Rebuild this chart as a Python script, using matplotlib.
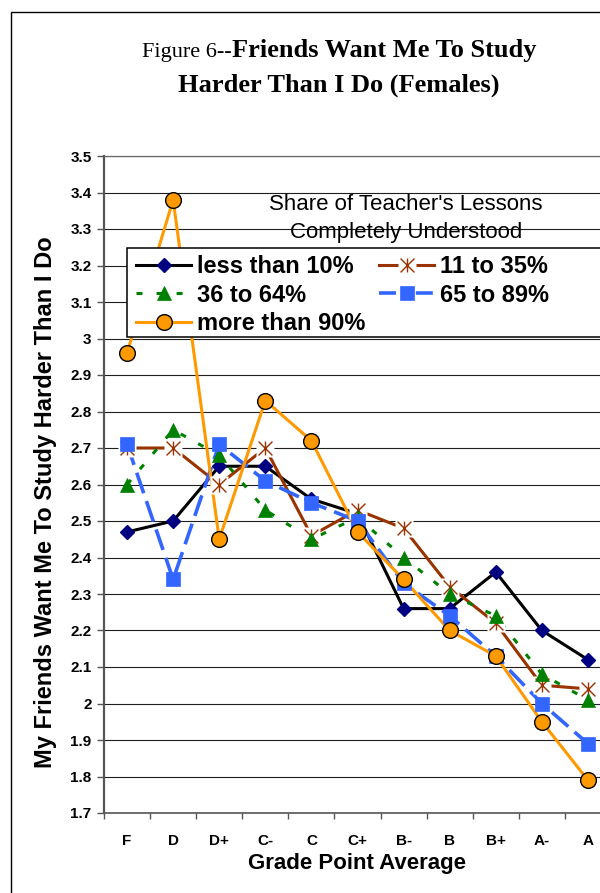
import matplotlib
matplotlib.use('Agg')
import matplotlib.pyplot as plt
from matplotlib.path import Path
from matplotlib.lines import Line2D
from matplotlib.patches import Rectangle
from matplotlib.legend_handler import HandlerTuple
import numpy as np

# ---------------- data ----------------
grades = ['F', 'D', 'D+', 'C-', 'C', 'C+', 'B-', 'B', 'B+', 'A-', 'A']
less_than_10 = [2.47, 2.50, 2.65, 2.65, 2.56, 2.52, 2.26, 2.26, 2.36, 2.20, 2.12]
from_11_to_35 = [2.70, 2.70, 2.60, 2.70, 2.46, 2.53, 2.48, 2.32, 2.22, 2.05, 2.04]
from_36_to_64 = [2.60, 2.75, 2.68, 2.53, 2.45, 2.51, 2.40, 2.30, 2.24, 2.08, 2.01]
from_65_to_89 = [2.71, 2.34, 2.71, 2.61, 2.55, 2.50, 2.33, 2.24, 2.13, 2.00, 1.89]
more_than_90 = [2.96, 3.38, 2.45, 2.83, 2.72, 2.47, 2.34, 2.20, 2.13, 1.95, 1.79]
series_labels = ['less than 10%', '11 to 35%', '36 to 64%', '65 to 89%', 'more than 90%']
yticks = [1.7, 1.8, 1.9, 2.0, 2.1, 2.2, 2.3, 2.4, 2.5, 2.6, 2.7, 2.8, 2.9, 3.0, 3.1, 3.2, 3.3, 3.4, 3.5]
title_prefix = 'Figure 6--'
title_line1 = 'Friends Want Me To Study'
title_line2 = 'Harder Than I Do (Females)'
legend_title = ["Share of Teacher's Lessons", 'Completely Understood']
ylabel = 'My Friends Want Me To Study Harder Than I Do'
xlabel = 'Grade Point Average'

# ---------------- layout helpers ----------------
W, H = 600, 893
fig = plt.figure(figsize=(W / 100, H / 100), dpi=100)
fig.patch.set_facecolor('white')


def fx(px):
    return px / W


def fy(py):
    return 1 - py / H


SANS = 'Liberation Sans'
SERIF = 'Liberation Serif'

ax = fig.add_axes([fx(104), fy(813), (611 - 104) / W, (813 - 156) / H])
x = np.arange(len(grades))
ax.set_xlim(-0.5, len(grades) - 0.5)
ax.set_ylim(yticks[0], yticks[-1])

# grid / spines
ax.set_yticks(yticks)
ax.set_yticklabels([f'{v:g}' for v in yticks])
ax.yaxis.grid(True, color='#1e1e1e', lw=0.8)
ax.set_axisbelow(True)
ax.spines['right'].set_visible(False)
ax.spines['top'].set_color('#666666')
ax.spines['top'].set_linewidth(0.9)
ax.spines['left'].set_color('#555555')
ax.spines['left'].set_linewidth(1.6)
ax.spines['bottom'].set_color('#555555')
ax.spines['bottom'].set_linewidth(1.2)

ax.tick_params(axis='y', direction='out', length=5, width=1, color='#555555', pad=4,
               labelsize=11)
ax.set_xticks(np.arange(-0.5, len(grades), 1.0))
ax.set_xticklabels([])
ax.tick_params(axis='x', which='major', direction='out', length=4.5, width=1, color='#555555')
ax.set_xticks(x, minor=True)
ax.set_xticklabels(grades, minor=True)
ax.tick_params(axis='x', which='minor', length=0, pad=15, labelsize=11)
for lab in ax.get_yticklabels() + ax.get_xticklabels(minor=True):
    lab.set_fontfamily(SANS)
    lab.set_fontweight('bold')

# ---------------- series ----------------
navy = '#000080'
brown = '#993300'
green = '#008000'
blue = '#3366FF'
orange = '#FF9900'

ast_path = Path([(0, -1), (0, 1), (-1, -1), (1, 1), (-1, 1), (1, -1)],
                [Path.MOVETO, Path.LINETO] * 3)

green_dash = (0, (1.96, 4.6))
blue_dash = (0, (6.0, 2.3))

# lines first (all series), then markers
ax.plot(x, less_than_10, color='black', lw=2.2, zorder=2.0)
ax.plot(x, from_11_to_35, color=brown, lw=2.2, zorder=2.1)
ax.plot(x, from_36_to_64, color=green, lw=2.2, ls=green_dash, zorder=2.2)
ax.plot(x, from_65_to_89, color=blue, lw=2.6, ls=blue_dash, zorder=2.3)
ax.plot(x, more_than_90, color=orange, lw=2.2, zorder=2.4)

ax.plot(x, less_than_10, ls='none', marker='D', ms=7.2, mfc=navy, mec=navy, zorder=3.0)
ax.plot(x, from_11_to_35, ls='none', marker='s', ms=13, mfc='white', mec='none', zorder=3.1)
ax.plot(x, from_11_to_35, ls='none', marker=ast_path, ms=10, mfc='none', mec=brown, mew=1.0,
        zorder=3.11)
ax.plot(x, from_36_to_64, ls='none', marker='^', ms=10.5, mfc=green, mec=green, mew=0.5,
        zorder=3.2)
ax.plot(x, from_65_to_89, ls='none', marker='s', ms=10, mfc=blue, mec=blue, mew=0.5, zorder=3.3)
ax.plot(x, more_than_90, ls='none', marker='o', ms=11.3, mfc=orange, mec='black', mew=1.0,
        zorder=3.4)

# ---------------- legend ----------------
h_black = Line2D([], [], color='black', lw=2.2, marker='D', ms=7.2, mfc=navy, mec=navy)
h_brown = (Line2D([], [], color=brown, lw=2.2),
           Line2D([], [], ls='none', marker='s', ms=13, mfc='white', mec='none'),
           Line2D([], [], ls='none', marker=ast_path, ms=10, mfc='none', mec=brown, mew=1.0))
h_green = Line2D([], [], color=green, lw=2.2, ls=green_dash, marker='^', ms=10.5,
                 mfc=green, mec=green, mew=0.5)
h_blue = Line2D([], [], color=blue, lw=2.6, ls=(0, (4.7, 5.5)), marker='s', ms=10,
                mfc=blue, mec=blue, mew=0.5)
h_orange = Line2D([], [], color=orange, lw=2.2, marker='o', ms=11.3, mfc=orange, mec='black',
                  mew=1.0)

handles = [h_black, h_green, h_orange, h_brown, h_blue]
labels = [series_labels[0], series_labels[2], series_labels[4], series_labels[1], series_labels[3]]
leg = ax.legend(handles, labels, ncol=2, loc='upper left',
                bbox_to_anchor=(fx(136), fy(255)), bbox_transform=fig.transFigure,
                frameon=False, borderpad=0, borderaxespad=0,
                handlelength=2.33, handletextpad=0.25, columnspacing=0.6,
                labelspacing=0.24,
                prop={'family': SANS, 'weight': 'bold', 'size': 17},
                handler_map={tuple: HandlerTuple(ndivide=1, pad=0)})
leg.set_zorder(5)

frame = Rectangle((fx(127), fy(337)), fx(720) - fx(127), (337 - 248) / H,
                  transform=fig.transFigure, facecolor='white', edgecolor='black',
                  lw=1.1, zorder=4.5, clip_on=False)
ax.add_patch(frame)

# legend heading text
fig.text(fx(406), fy(210), legend_title[0], ha='center', va='baseline',
         family=SANS, size=16)
fig.text(fx(406), fy(238), legend_title[1], ha='center', va='baseline',
         family=SANS, size=16)

# ---------------- titles / axis labels ----------------
t1a = fig.text(0, fy(57), title_prefix, ha='left', va='baseline', family=SERIF, size=16)
t1b = fig.text(0, fy(57), title_line1, ha='left', va='baseline', family=SERIF, size=19,
               weight='bold')
fig.text(fx(339), fy(92), title_line2, ha='center', va='baseline', family=SERIF, size=19,
         weight='bold')
fig.canvas.draw()
r = fig.canvas.get_renderer()
wa = t1a.get_window_extent(r).width
wb = t1b.get_window_extent(r).width
x0 = 339 - (wa + wb) / 2
t1a.set_x(fx(x0))
t1b.set_x(fx(x0 + wa))

fig.text(fx(46), fy(502), ylabel, rotation=90, ha='center', va='center', family=SANS,
         size=17, weight='bold')
fig.text(fx(357), fy(864), xlabel, ha='center', va='center', family=SANS, size=16,
         weight='bold')

# figure border
border = Rectangle((fx(11), fy(1000)), fx(700) - fx(11), (1000 - 12) / H,
                   transform=fig.transFigure, fill=False, edgecolor='black', lw=1.0,
                   zorder=10, clip_on=False)
fig.add_artist(border)

fig.savefig('out.png', dpi=100)
